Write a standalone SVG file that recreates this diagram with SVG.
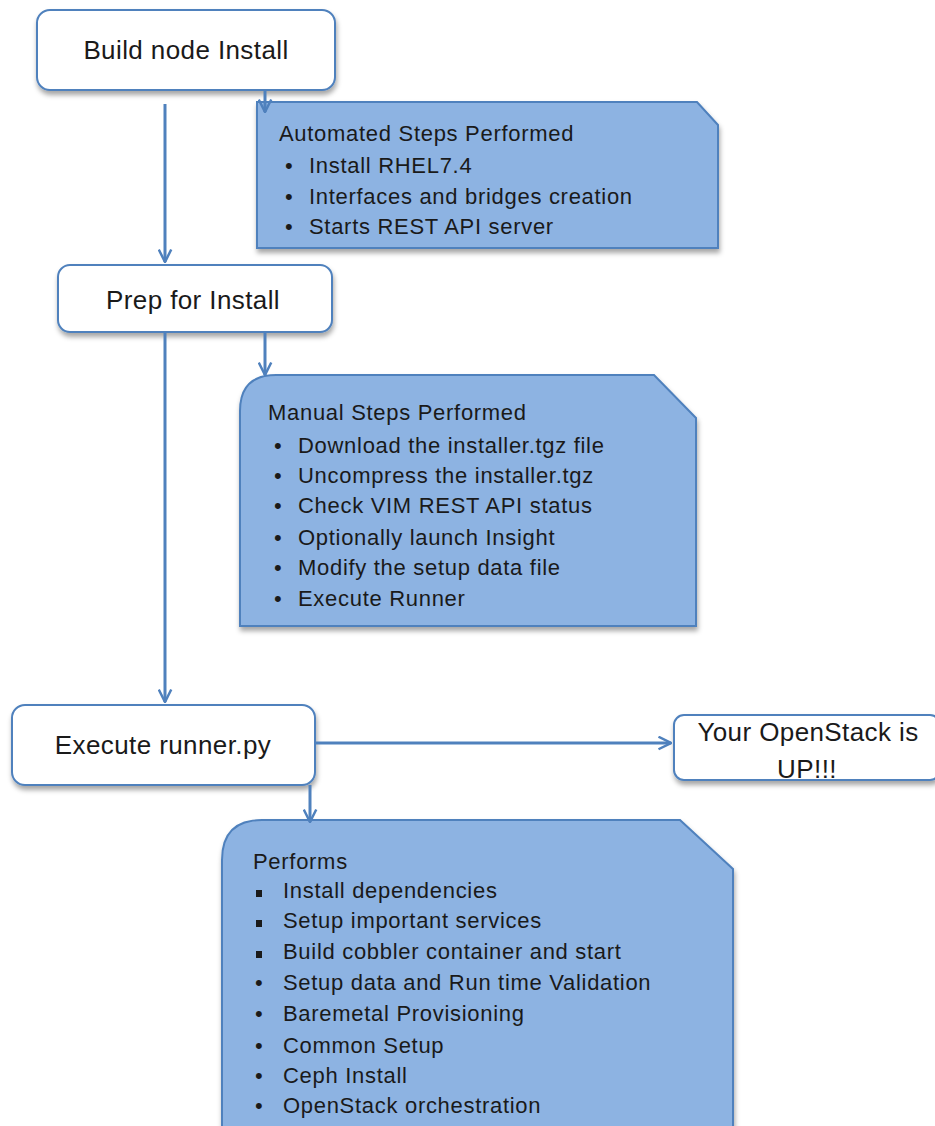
<svg xmlns="http://www.w3.org/2000/svg" width="935" height="1126" viewBox="0 0 935 1126">
<style>
.box{fill:#ffffff;stroke:#4f81bd;stroke-width:2;}
.note{fill:#8db3e2;stroke:#4f81bd;stroke-width:2;}
.t{font-family:"Liberation Sans",Arial,sans-serif;fill:#1a1a1a;}
.big{font-size:26px;letter-spacing:0.4px;}
.li{font-size:22px;letter-spacing:0.7px;}
.con{stroke:#4f81bd;stroke-width:3;fill:none;}
</style>
<defs>
<filter id="sh" x="-10%" y="-10%" width="130%" height="140%">
<feDropShadow dx="1" dy="4" stdDeviation="2.5" flood-color="#000" flood-opacity="0.35"/>
</filter>
<marker id="arr" viewBox="0 0 12 12" refX="11" refY="6" markerWidth="5" markerHeight="5" orient="auto" markerUnits="strokeWidth">
<path d="M1,1 L11,6 L1,11" fill="none" stroke="#4f81bd" stroke-width="2"/>
</marker>
</defs>
<rect width="935" height="1126" fill="#ffffff"/>

<g id="build">
<rect class="box" x="37" y="10" width="298" height="80" rx="13" filter="url(#sh)"/>
<text class="t big" x="186" y="59" text-anchor="middle">Build node Install</text>
</g>

<g id="automated">
<path class="note" d="M257,102 L697,102 L718,125 L718,248 L257,248 Z" filter="url(#sh)"/>
<text class="t li" x="279" y="141">Automated Steps Performed</text>
<text class="t li" x="285" y="173">•</text><text class="t li" x="309" y="173">Install RHEL7.4</text>
<text class="t li" x="285" y="204">•</text><text class="t li" x="309" y="204">Interfaces and bridges creation</text>
<text class="t li" x="285" y="234">•</text><text class="t li" x="309" y="234">Starts REST API server</text>
</g>

<g id="prep">
<rect class="box" x="58" y="265" width="274" height="67" rx="12" filter="url(#sh)"/>
<text class="t big" x="193" y="309" text-anchor="middle">Prep for Install</text>
</g>

<g id="manual">
<path class="note" d="M276,375 L654,375 L696,418 L696,626 L240,626 L240,411 Q240,375 276,375 Z" filter="url(#sh)"/>
<text class="t li" x="268" y="420">Manual Steps Performed</text>
<text class="t li" x="274" y="453">•</text><text class="t li" x="298" y="453">Download the installer.tgz file</text>
<text class="t li" x="274" y="483">•</text><text class="t li" x="298" y="483">Uncompress the installer.tgz</text>
<text class="t li" x="274" y="513">•</text><text class="t li" x="298" y="513">Check VIM REST API status</text>
<text class="t li" x="274" y="545">•</text><text class="t li" x="298" y="545">Optionally launch Insight</text>
<text class="t li" x="274" y="575">•</text><text class="t li" x="298" y="575">Modify the setup data file</text>
<text class="t li" x="274" y="606">•</text><text class="t li" x="298" y="606">Execute Runner</text>
</g>

<g id="execute">
<rect class="box" x="12" y="705" width="303" height="80" rx="13" filter="url(#sh)"/>
<text class="t big" x="163" y="754" text-anchor="middle">Execute runner.py</text>
</g>

<g id="up">
<rect class="box" x="674" y="715" width="266" height="65" rx="10" filter="url(#sh)"/>
<text class="t big" x="808" y="741" text-anchor="middle">Your OpenStack is</text>
<text class="t big" x="807" y="778" text-anchor="middle">UP!!!</text>
</g>

<g id="performs">
<path class="note" d="M262,820 L680,820 L733,869 L733,1140 L222,1140 L222,860 Q222,820 262,820 Z" filter="url(#sh)"/>
<text class="t li" x="253" y="869">Performs</text>
<rect x="256" y="890" width="6" height="7" fill="#1a1a1a"/><text class="t li" x="283" y="898">Install dependencies</text>
<rect x="256" y="920" width="6" height="7" fill="#1a1a1a"/><text class="t li" x="283" y="928">Setup important services</text>
<rect x="256" y="951" width="6" height="7" fill="#1a1a1a"/><text class="t li" x="283" y="959">Build cobbler  container and start</text>
<text class="t li" x="255" y="990">•</text><text class="t li" x="283" y="990">Setup data and Run time Validation</text>
<text class="t li" x="255" y="1021">•</text><text class="t li" x="283" y="1021">Baremetal Provisioning</text>
<text class="t li" x="255" y="1053">•</text><text class="t li" x="283" y="1053">Common Setup</text>
<text class="t li" x="255" y="1083">•</text><text class="t li" x="283" y="1083">Ceph  Install</text>
<text class="t li" x="255" y="1113">•</text><text class="t li" x="283" y="1113">OpenStack orchestration</text>
</g>

<g id="connectors">
<line class="con" x1="165" y1="104" x2="165" y2="262" marker-end="url(#arr)"/>
<line class="con" x1="265" y1="90" x2="265" y2="112" marker-end="url(#arr)"/>
<line class="con" x1="165" y1="332" x2="165" y2="702" marker-end="url(#arr)"/>
<line class="con" x1="265" y1="332" x2="265" y2="375" marker-end="url(#arr)"/>
<line class="con" x1="315" y1="743" x2="671" y2="743" marker-end="url(#arr)"/>
<line class="con" x1="310" y1="785" x2="310" y2="822" marker-end="url(#arr)"/>
</g>
</svg>
